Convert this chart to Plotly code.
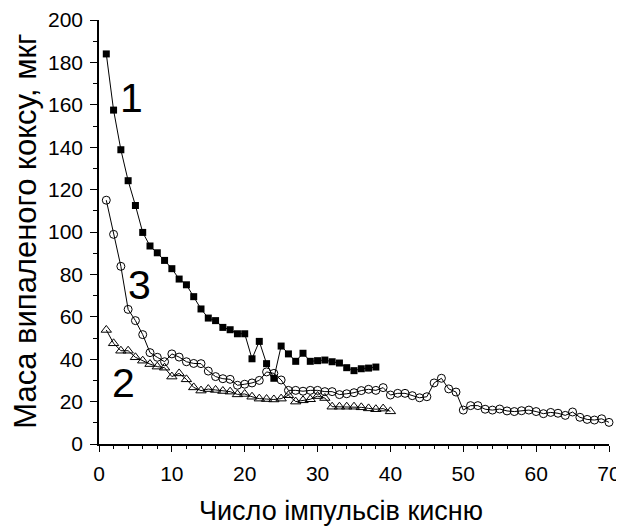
import plotly.graph_objects as go

x1 = list(range(1, 39))
y1 = [184, 157.5, 138.8, 124.2, 112.5, 99.8, 93.4, 90.2, 86.6, 82.7,
      77.8, 75.1, 69.5, 63.7, 59.4, 58.2, 55, 53.9, 52, 52,
      40.2, 48.4, 37.9, 31, 46.2, 42.5, 39, 42.8, 39, 39.3,
      39.6, 38.8, 38.2, 36, 34.6, 35.5, 35.8, 36.3]

x3 = list(range(1, 71))
y3 = [115, 98.9, 83.8, 63.5, 58.2, 51.6, 43.1, 40.9, 38.8, 42.5,
      41, 38.8, 38, 37.9, 34.4, 31.8, 30.8, 30.5, 27.7, 28.2,
      28.8, 30, 34, 33.3, 30.2, 25.3, 25.3, 24.9, 25.3, 25.3,
      24.7, 24.7, 23.3, 23.7, 24.2, 25.2, 25.8, 25.3, 26.6, 23.1,
      23.9, 23.9, 22.8, 21.8, 22.3, 28.8, 31, 26, 24.5, 16,
      18.1, 18.1, 16.4, 16, 16.5, 15.6, 15.3, 15.7, 16, 15.3,
      14.3, 14.9, 14.5, 13.5, 15.1, 12.6, 11.6, 11.3, 11.9, 10.2]

x2 = list(range(1, 41))
y2 = [53.8, 47.5, 44, 44, 40.9, 39.3, 37.7, 36.5, 36, 31.8,
      33.3, 30.5, 26.7, 25.2, 25.9, 25.5, 25, 24.7, 23.4, 23.6,
      22.3, 21.4, 21.2, 21, 21.4, 23, 20, 20.6, 21.1, 22.6,
      21.7, 17.6, 17.6, 17.6, 17.6, 17.3, 16.8, 16.4, 16.7, 15.4]

labels = ["1", "3", "2"]
label_x = [4.5, 5.6, 3.3]
label_y = [163, 75, 29]

x_title = "Число імпульсів кисню"
y_title = "Маса випаленого коксу, мкг"

FONT = "Liberation Sans, Arial, sans-serif"

fig = go.Figure()
fig.add_trace(go.Scatter(x=x3, y=y3, mode="lines+markers",
                         line=dict(color="black", width=1),
                         marker=dict(symbol="circle-open", size=8, color="black", line=dict(width=1)),
                         cliponaxis=False))
fig.add_trace(go.Scatter(x=x2, y=y2, mode="lines+markers",
                         line=dict(color="black", width=1),
                         marker=dict(symbol="triangle-up-open", size=9, color="black", line=dict(width=1)),
                         cliponaxis=False))
fig.add_trace(go.Scatter(x=x1, y=y1, mode="lines+markers",
                         line=dict(color="black", width=1),
                         marker=dict(symbol="square", size=7, color="black"),
                         cliponaxis=False))

for t, lx, ly in zip(labels, label_x, label_y):
    fig.add_annotation(x=lx, y=ly, text=t, showarrow=False,
                       font=dict(family=FONT, size=41, color="black"))

# axis titles as paper-anchored annotations
fig.add_annotation(xref="paper", yref="paper", x=0.4745, y=-0.158,
                   xanchor="center", yanchor="middle", showarrow=False,
                   text=x_title, font=dict(family=FONT, size=27, color="black"))
fig.add_annotation(xref="paper", yref="paper", x=-0.144, y=0.502,
                   xanchor="center", yanchor="middle", showarrow=False, textangle=-90,
                   borderpad=0,
                   text=y_title, font=dict(family=FONT, size=31, color="black"))

# page body has an 8px margin, so the figure is sized to fit the 624x528 window
fig.update_layout(
    width=616, height=520,
    margin=dict(l=91, r=15, t=12, b=84),
    plot_bgcolor="white", paper_bgcolor="white",
    showlegend=False,
    font=dict(family=FONT, color="black"),
)
fig.update_xaxes(range=[0, 70], tickmode="linear", tick0=0, dtick=10,
                 ticks="outside", ticklen=6, tickwidth=1, tickcolor="black",
                 minor=dict(dtick=2, ticks="outside", ticklen=3, tickcolor="black"),
                 showline=True, linecolor="black", linewidth=1.5,
                 showgrid=False, zeroline=False, automargin=False,
                 ticklabelstandoff=4,
                 tickfont=dict(size=21))
fig.update_yaxes(range=[0, 200], tickmode="linear", tick0=0, dtick=20,
                 ticks="outside", ticklen=7, tickwidth=1, tickcolor="black",
                 minor=dict(dtick=10, ticks="outside", ticklen=4, tickcolor="black"),
                 showline=True, linecolor="black", linewidth=1.5,
                 showgrid=False, zeroline=False, automargin=False,
                 ticklabelstandoff=3,
                 tickfont=dict(size=21))

fig.write_html("out.html")
